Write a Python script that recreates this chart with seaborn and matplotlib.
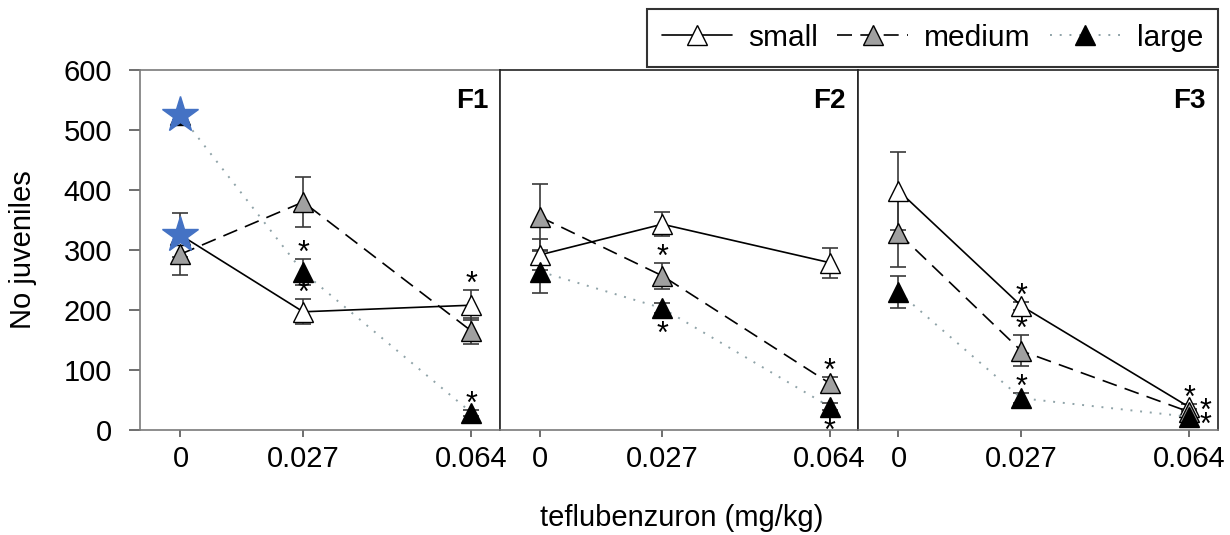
import matplotlib
matplotlib.use("Agg")
import matplotlib.pyplot as plt
from matplotlib.lines import Line2D
import seaborn as sns
import pandas as pd

sns.set_theme(style="white")
plt.rcParams["font.family"] = ["Liberation Sans", "DejaVu Sans"]
plt.rcParams["text.color"] = "black"
plt.rcParams["xtick.color"] = "black"
plt.rcParams["ytick.color"] = "black"

# Teflubenzuron concentrations (mg/kg)
conc = [0.0, 0.027, 0.064]
conc_labels = ["0", "0.027", "0.064"]
panels = ["F1", "F2", "F3"]
sizes = ["small", "medium", "large"]

# Mean number of juveniles per panel and size class
f1_small = [325, 197, 208]
f1_medium = [293, 380, 165]
f1_large = [525, 263, 29]
f2_small = [292, 343, 279]
f2_medium = [355, 257, 78]
f2_large = [264, 203, 39]
f3_small = [399, 207, 38]
f3_medium = [328, 132, 30]
f3_large = [230, 53, 22]

# Standard errors
f1_small_se = [37, 21, 25]
f1_medium_se = [34, 42, 22]
f1_large_se = [8, 22, 5]
f2_small_se = [26, 20, 25]
f2_medium_se = [55, 22, 11]
f2_large_se = [35, 8, 6]
f3_small_se = [65, 7, 6]
f3_medium_se = [56, 26, 5]
f3_large_se = [27, 8, 4]

# Significance markers: (size, concentration index, placement)
f1_sig = [("small", 1, "above"), ("large", 1, "above"),
          ("small", 2, "above"), ("large", 2, "above")]
f2_sig = [("medium", 1, "above"), ("large", 1, "below"),
          ("medium", 2, "above"), ("large", 2, "below")]
f3_sig = [("small", 1, "above"), ("medium", 1, "above"), ("large", 1, "above"),
          ("small", 2, "above"), ("medium", 2, "right_hi"),
          ("large", 2, "right_lo")]

# Highlighted control points in F1 (size class)
f1_highlight = ["small", "large"]

means = {
    "F1": {"small": f1_small, "medium": f1_medium, "large": f1_large},
    "F2": {"small": f2_small, "medium": f2_medium, "large": f2_large},
    "F3": {"small": f3_small, "medium": f3_medium, "large": f3_large},
}
errors = {
    "F1": {"small": f1_small_se, "medium": f1_medium_se, "large": f1_large_se},
    "F2": {"small": f2_small_se, "medium": f2_medium_se, "large": f2_large_se},
    "F3": {"small": f3_small_se, "medium": f3_medium_se, "large": f3_large_se},
}
sigs = {"F1": f1_sig, "F2": f2_sig, "F3": f3_sig}
highlights = {"F1": f1_highlight, "F2": [], "F3": []}

style = {
    "small": dict(color="black", ls="-", face="white", lw=1.2),
    "medium": dict(color="black", ls=(0, (9, 5)), face="#a0a0a0", lw=1.2),
    "large": dict(color="#8fa3a8", ls=(0, (1, 4)), face="black", lw=1.4),
}

rows = []
for p in panels:
    for s in sizes:
        for c, m, e in zip(conc, means[p][s], errors[p][s]):
            rows.append(dict(panel=p, size=s, conc=c, mean=m, se=e))
df = pd.DataFrame(rows)

W, H = 1230, 535
PX = 72 / 100  # points per pixel at dpi 100
FS = 21
fig = plt.figure(figsize=(W / 100, H / 100), dpi=100)
lefts = [140, 500, 858]
widths = [360, 358, 360]
spine_col = ["#7a7a7a", "#222222", "#222222"]

# asterisk placements: (anchor, dx px, dy px of baseline relative to anchor)
place = {
    "above": ("top", 0, -3),
    "below": ("bottom", 0, -30),
    "right_hi": ("mean", 16, -8),
    "right_lo": ("mean", 16, -17),
}

axes = []
for i, p in enumerate(panels):
    ax = fig.add_axes([lefts[i] / W, 1 - 430 / H, widths[i] / W, 360 / H])
    axes.append(ax)
    sub = df[df.panel == p]
    for s in sizes:
        st = style[s]
        d = sub[sub["size"] == s]
        ax.errorbar(d["conc"], d["mean"], yerr=d["se"], fmt="none",
                    ecolor="#3a3a3a", elinewidth=1.2, capsize=6, capthick=1.2,
                    zorder=2)
        sns.lineplot(data=d, x="conc", y="mean", ax=ax, color=st["color"],
                     linestyle=st["ls"], linewidth=st["lw"], marker="^",
                     markersize=14, markerfacecolor=st["face"],
                     markeredgecolor="black", markeredgewidth=1.0,
                     errorbar=None, legend=False, zorder=3)
    for s in highlights[p]:
        d = sub[(sub["size"] == s) & (sub["conc"] == conc[0])]
        ax.plot(d["conc"], d["mean"], marker="*", markersize=27,
                color="#4472c4", linestyle="none", zorder=5)
    for s, idx, where in sigs[p]:
        m = means[p][s][idx]
        e = errors[p][s][idx]
        anchor, dx, dy = place[where]
        y = {"top": m + e, "bottom": m - e, "mean": m}[anchor]
        ax.annotate("*", xy=(conc[idx], y), xytext=(dx * PX, dy * PX),
                    textcoords="offset points", ha="center", va="baseline",
                    fontsize=22, color="black", zorder=6)
    ax.text(1 - 12 / widths[i], 1 - 38 / 360, p, transform=ax.transAxes,
            ha="right", va="baseline", fontsize=20, fontweight="bold")
    ax.set_xlim(-0.0089, 0.0703)
    ax.set_ylim(0, 600)
    ax.set_xticks(conc)
    ax.set_xticklabels(conc_labels)
    ax.set_xlabel("")
    ax.set_ylabel("")
    for sp in ax.spines.values():
        sp.set_color(spine_col[i])
        sp.set_linewidth(1.2)
    ax.spines["bottom"].set_color("#7a7a7a")
    ax.tick_params(axis="x", bottom=True, direction="out", length=5,
                   width=1.2, color="#555555", labelsize=FS, pad=6)
    if i == 0:
        ax.set_yticks([0, 100, 200, 300, 400, 500, 600])
        ax.tick_params(axis="y", left=True, direction="out", length=8,
                       width=1.2, color="#555555", labelsize=FS, pad=12)
    else:
        ax.set_yticks([])

fig.text(682 / W, 1 - 518 / H, "teflubenzuron (mg/kg)", ha="center",
         va="center", fontsize=FS)
fig.text(23 / W, 1 - 250 / H, "No juveniles", ha="center", va="center",
         rotation=90, fontsize=FS)

handles = []
for s in sizes:
    st = style[s]
    handles.append(Line2D([0], [0], color=st["color"], linestyle=st["ls"],
                          linewidth=st["lw"], marker="^", markersize=14,
                          markerfacecolor=st["face"], markeredgecolor="black"))
leg = fig.legend(handles, sizes, loc="upper right", ncol=3,
                 bbox_to_anchor=(1218 / W, 1 - 9 / H), frameon=True,
                 fancybox=False, edgecolor="black", fontsize=21.5,
                 handlelength=2.35, columnspacing=0.65, handletextpad=0.55,
                 borderpad=0.5, borderaxespad=0)
leg.get_frame().set_linewidth(1.5)

fig.savefig("out.png", dpi=100)
